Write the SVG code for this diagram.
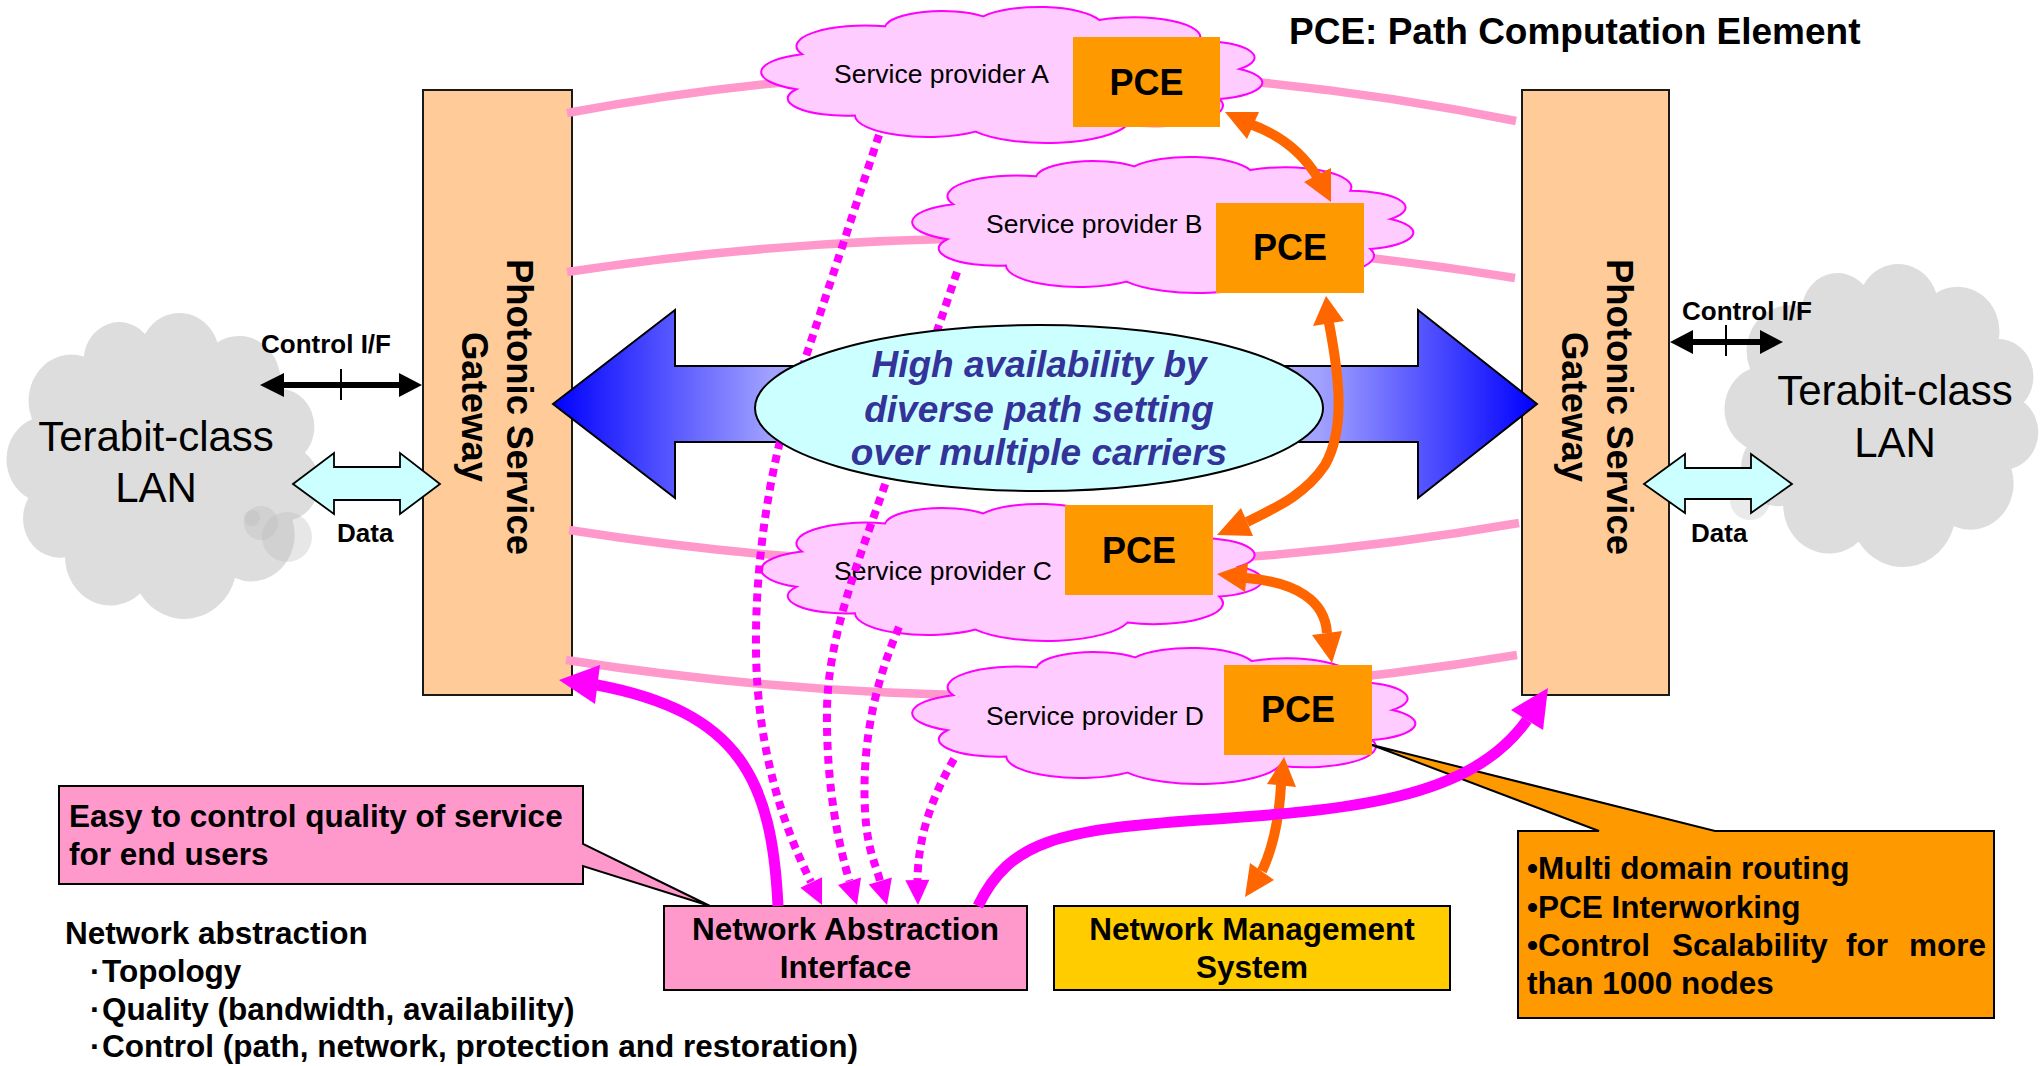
<svg xmlns="http://www.w3.org/2000/svg" width="2042" height="1066" viewBox="0 0 2042 1066">
<defs>
<style>
text{font-family:"Liberation Sans",Arial,Helvetica,sans-serif;fill:#000;}
.b{font-weight:bold;}
.gw{fill:#FFCC99;stroke:#1a1a1a;stroke-width:2;}
.gwt{font-size:36.5px;font-weight:bold;text-anchor:middle;}
.cp{fill:#FFCCFF;stroke:#FF00FF;stroke-width:2;}
.cg{fill:#DDDDDD;stroke:none;}
.pce{fill:#FF9900;}
.pcet{font-size:36px;font-weight:bold;text-anchor:middle;}
.spt{font-size:26.5px;}
.lan{font-size:42px;text-anchor:middle;}
.carrier{fill:none;stroke:#FF99CC;stroke-width:8.5;}
.dot{fill:none;stroke:#FF00FF;stroke-width:8;stroke-dasharray:8 6;}
.mag{fill:#FF00FF;}
.magl{fill:none;stroke:#FF00FF;stroke-width:11;}
.org{fill:#FF6600;}
.orgl{fill:none;stroke:#FF6600;stroke-width:10;}
.t31{font-size:31.5px;font-weight:bold;}
.ctl{font-size:26px;font-weight:bold;}
.box{stroke:#000;stroke-width:2;}
</style>
<linearGradient id="blueG" x1="553" y1="0" x2="1537" y2="0" gradientUnits="userSpaceOnUse">
<stop offset="0" stop-color="#0000FF"/>
<stop offset="0.22" stop-color="#A0A0FF"/>
<stop offset="0.5" stop-color="#F0F0FF"/>
<stop offset="0.78" stop-color="#A0A0FF"/>
<stop offset="1" stop-color="#0000FF"/>
</linearGradient>
</defs>
<rect width="2042" height="1066" fill="#FFFFFF"/>

<g id="gateway-left">
<rect class="gw" x="423" y="90" width="149" height="605"/>
<g transform="translate(507,407) rotate(90)"><text class="gwt" x="0" y="0">Photonic Service</text><text class="gwt" x="0" y="45">Gateway</text></g>
</g>
<g id="gateway-right">
<rect class="gw" x="1522" y="90" width="147" height="605"/>
<g transform="translate(1607,407) rotate(90)"><text class="gwt" x="0" y="0">Photonic Service</text><text class="gwt" x="0" y="45">Gateway</text></g>
</g>

<g id="lan-left">
<path class="cg" transform="translate(7,313) scale(3.203,3.458) translate(-0.8,-6.3)" d="M8.6,37A13.4,13.4 0 0 1 24.8,18.9A11.1,11.1 0 0 1 43.9,12.4A12.5,12.5 0 0 1 66.5,14.8A13,13 0 0 1 86,28.2A11,11 0 0 1 93.8,46.7A10.9,10.9 0 0 1 89.9,66.1A13.5,13.5 0 0 1 72,82.9A16.5,16.5 0 0 1 42.4,87.4A14.2,14.2 0 0 1 18.9,76.9A11.3,11.3 0 0 1 7.5,59.8A12.5,12.5 0 0 1 8.6,37Z"/>
<circle cx="287" cy="537" r="25" fill="#BBBBBB" fill-opacity="0.35"/>
<circle cx="261" cy="523" r="17" fill="#BBBBBB" fill-opacity="0.35"/>
<circle cx="252" cy="518" r="8" fill="#BBBBBB" fill-opacity="0.35"/>
<text class="lan" x="156" y="451">Terabit-class</text>
<text class="lan" x="156" y="502">LAN</text>
</g>
<g id="lan-right">
<path class="cg" transform="translate(1725,264) scale(3.214,3.424) translate(-0.8,-6.3)" d="M8.6,37A13.4,13.4 0 0 1 24.8,18.9A11.1,11.1 0 0 1 43.9,12.4A12.5,12.5 0 0 1 66.5,14.8A13,13 0 0 1 86,28.2A11,11 0 0 1 93.8,46.7A10.9,10.9 0 0 1 89.9,66.1A13.5,13.5 0 0 1 72,82.9A16.5,16.5 0 0 1 42.4,87.4A14.2,14.2 0 0 1 18.9,76.9A11.3,11.3 0 0 1 7.5,59.8A12.5,12.5 0 0 1 8.6,37Z"/>
<circle cx="1750" cy="500" r="20" fill="#BBBBBB" fill-opacity="0.3"/>
<text class="lan" x="1895" y="405">Terabit-class</text>
<text class="lan" x="1895" y="457">LAN</text>
</g>

<g id="carrier-links">
<path class="carrier" d="M567,113 Q1041,24.5 1516,121"/>
<path class="carrier" d="M567,272 Q1041,201 1515,278"/>
<path class="carrier" d="M569,530 Q1044,605 1519,523"/>
<path class="carrier" d="M566,660 Q1041,734 1517,655"/>
</g>

<g id="provider-a">
<path class="cp" vector-effect="non-scaling-stroke" transform="translate(762,7) scale(5.133,1.537) translate(-0.8,-6.3)" d="M8.6,37A13.4,13.4 0 0 1 24.8,18.9A11.1,11.1 0 0 1 43.9,12.4A12.5,12.5 0 0 1 66.5,14.8A13,13 0 0 1 86,28.2A11,11 0 0 1 93.8,46.7A10.9,10.9 0 0 1 89.9,66.1A13.5,13.5 0 0 1 72,82.9A16.5,16.5 0 0 1 42.4,87.4A14.2,14.2 0 0 1 18.9,76.9A11.3,11.3 0 0 1 7.5,59.8A12.5,12.5 0 0 1 8.6,37Z"/>
<text class="spt" x="834" y="83">Service provider A</text>
</g>
<g id="provider-b">
<path class="cp" vector-effect="non-scaling-stroke" transform="translate(913,157) scale(5.133,1.537) translate(-0.8,-6.3)" d="M8.6,37A13.4,13.4 0 0 1 24.8,18.9A11.1,11.1 0 0 1 43.9,12.4A12.5,12.5 0 0 1 66.5,14.8A13,13 0 0 1 86,28.2A11,11 0 0 1 93.8,46.7A10.9,10.9 0 0 1 89.9,66.1A13.5,13.5 0 0 1 72,82.9A16.5,16.5 0 0 1 42.4,87.4A14.2,14.2 0 0 1 18.9,76.9A11.3,11.3 0 0 1 7.5,59.8A12.5,12.5 0 0 1 8.6,37Z"/>
<text class="spt" x="986" y="233">Service provider B</text>
</g>
<g id="provider-c">
<path class="cp" vector-effect="non-scaling-stroke" transform="translate(762,504) scale(5.133,1.548) translate(-0.8,-6.3)" d="M8.6,37A13.4,13.4 0 0 1 24.8,18.9A11.1,11.1 0 0 1 43.9,12.4A12.5,12.5 0 0 1 66.5,14.8A13,13 0 0 1 86,28.2A11,11 0 0 1 93.8,46.7A10.9,10.9 0 0 1 89.9,66.1A13.5,13.5 0 0 1 72,82.9A16.5,16.5 0 0 1 42.4,87.4A14.2,14.2 0 0 1 18.9,76.9A11.3,11.3 0 0 1 7.5,59.8A12.5,12.5 0 0 1 8.6,37Z"/>
<text class="spt" x="834" y="580">Service provider C</text>
</g>
<g id="provider-d">
<path class="cp" vector-effect="non-scaling-stroke" transform="translate(913,648) scale(5.154,1.537) translate(-0.8,-6.3)" d="M8.6,37A13.4,13.4 0 0 1 24.8,18.9A11.1,11.1 0 0 1 43.9,12.4A12.5,12.5 0 0 1 66.5,14.8A13,13 0 0 1 86,28.2A11,11 0 0 1 93.8,46.7A10.9,10.9 0 0 1 89.9,66.1A13.5,13.5 0 0 1 72,82.9A16.5,16.5 0 0 1 42.4,87.4A14.2,14.2 0 0 1 18.9,76.9A11.3,11.3 0 0 1 7.5,59.8A12.5,12.5 0 0 1 8.6,37Z"/>
<text class="spt" x="986" y="725">Service provider D</text>
</g>

<g id="pce-callout">
<path class="box" fill="#FF9900" d="M1518,831 H1599 L1372,745 L1715,831 H1994 V1018 H1518 Z"/>
<text class="t31" x="1527" y="879">•Multi domain routing</text>
<text class="t31" x="1527" y="918">•PCE Interworking</text>
<text class="t31" y="956"><tspan x="1527">•Control</tspan><tspan x="1672">Scalability</tspan><tspan x="1846">for</tspan><tspan x="1986" text-anchor="end">more</tspan></text>
<text class="t31" x="1527" y="994">than 1000 nodes</text>
</g>

<g id="pce-a"><rect class="pce" x="1073" y="37" width="147" height="90"/><text class="pcet" x="1146.5" y="95">PCE</text></g>
<g id="pce-b"><rect class="pce" x="1216" y="203" width="148" height="90"/><text class="pcet" x="1290" y="260">PCE</text></g>
<g id="pce-c"><rect class="pce" x="1065" y="505" width="148" height="90"/><text class="pcet" x="1139" y="563">PCE</text></g>
<g id="pce-d"><rect class="pce" x="1224" y="665" width="148" height="90"/><text class="pcet" x="1298" y="722">PCE</text></g>

<g id="connectors-mid">
<path fill="url(#blueG)" stroke="#000" stroke-width="2" d="M553,404 L675,310 V366 H1418 V310 L1537,404 L1418,498 V442 H675 V498 Z"/>
<path class="dot" d="M879,135 L790,405 C770,470 755,560 756,650 C757,760 790,840 811,882"/>
<path class="dot" d="M957,272 L890,470 C865,545 828,630 827,710 C826,790 840,850 849.5,881"/>
<path class="dot" d="M899,627 C872,690 862,750 865,810 C867,850 876,865 880,881"/>
<path class="dot" d="M954,759 C930,800 918,840 917.5,880"/>
<polygon class="mag" points="822,905 800.3,887.8 822.1,877.2"/>
<polygon class="mag" points="857,905 838,885 861,877.4"/>
<polygon class="mag" points="887,905 868.7,884.4 891.9,877.4"/>
<polygon class="mag" points="918,905 905.3,880.3 929.3,879.7"/>
</g>

<g id="goal">
<ellipse cx="1039" cy="408" rx="284" ry="83" fill="#CCFFFF" stroke="#000" stroke-width="2"/>
<g font-size="37" font-weight="bold" font-style="italic" text-anchor="middle">
<text x="1039" y="377" style="fill:#333399">High availability by</text>
<text x="1039" y="422" style="fill:#333399">diverse path setting</text>
<text x="1039" y="465" style="fill:#333399">over multiple carriers</text>
</g>
</g>

<g id="nai"><rect class="box" fill="#FF99CC" x="664" y="906" width="363" height="84"/>
<text class="t31" x="845.5" y="940" text-anchor="middle">Network Abstraction</text>
<text class="t31" x="845.5" y="978" text-anchor="middle">Interface</text></g>
<g id="nms"><rect class="box" fill="#FFCC00" x="1054" y="906" width="396" height="84"/>
<text class="t31" x="1252" y="940" text-anchor="middle">Network Management</text>
<text class="t31" x="1252" y="978" text-anchor="middle">System</text></g>
<g id="qos-callout"><path class="box" fill="#FF99CC" d="M59,786 H583 V844 L710,906 L583,866 V884 H59 Z"/>
<text class="t31" x="69" y="827">Easy to control quality of service</text>
<text class="t31" x="69" y="865">for end users</text></g>
<g id="abstraction-list">
<text class="t31" x="65" y="944">Network abstraction</text>
<text class="t31" y="982"><tspan x="90">·</tspan><tspan x="102">Topology</tspan></text>
<text class="t31" y="1020"><tspan x="90">·</tspan><tspan x="102">Quality (bandwidth, availability)</tspan></text>
<text class="t31" y="1057"><tspan x="90">·</tspan><tspan x="102">Control (path, network, protection and restoration)</tspan></text>
</g>
<text class="b" x="1289" y="44" font-size="37">PCE: Path Computation Element</text>

<g id="connectors">
<path fill="#000" d="M260,385 L284,373 V382 H399 V373 L422,385 L399,397 V388 H284 V397 Z"/>
<line x1="341" y1="369" x2="341" y2="400" stroke="#000" stroke-width="2"/>
<text class="ctl" x="261" y="353">Control I/F</text>
<path fill="#000" d="M1670,342 L1693,330 V339 H1760 V330 L1783,342 L1760,354 V345 H1693 V354 Z"/>
<line x1="1726" y1="325" x2="1726" y2="356" stroke="#000" stroke-width="2"/>
<text class="ctl" x="1682" y="320">Control I/F</text>
<path fill="#CCFFFF" stroke="#000" stroke-width="1.8" d="M293,484 L334,453 V467 H400 V453 L440,484 L400,514 V500 H334 V514 Z"/>
<text class="ctl" x="337" y="542" font-size="25.5">Data</text>
<path fill="#CCFFFF" stroke="#000" stroke-width="1.8" d="M1644,484 L1685,454 V468 H1751 V454 L1792,484 L1751,513 V499 H1685 V513 Z"/>
<text class="ctl" x="1691" y="542" font-size="25.5">Data</text>

<path class="orgl" d="M1250,124 Q1295,140 1318,178"/>
<polygon class="org" points="1225,112 1259,112 1247,139"/>
<polygon class="org" points="1331,202 1304,182 1331,168"/>
<path class="orgl" d="M1329,323 C1340,380 1345,430 1325,465 C1305,495 1275,508 1247,522"/>
<polygon class="org" points="1326,296 1313,326 1344,321"/>
<polygon class="org" points="1217,535 1241,508 1253,536"/>
<path class="orgl" d="M1246,578 C1295,582 1325,600 1327,633"/>
<polygon class="org" points="1217,574 1248,563 1245,592"/>
<polygon class="org" points="1332,663 1312,635 1342,631"/>
<path class="orgl" d="M1281,785 C1279,820 1272,850 1262,871"/>
<polygon class="org" points="1284,757 1267,784 1296,787"/>
<polygon class="org" points="1245,897 1250,863 1274,880"/>

<path class="magl" d="M778,906 C772,780 740,712 597,685"/>
<polygon class="mag" points="559,680 600,665 595,704"/>
<path class="magl" d="M978,906 C1010,840 1060,830 1200,820 C1350,810 1470,800 1527,720"/>
<polygon class="mag" points="1548,688 1511,710 1543,730"/>
</g>
</svg>
